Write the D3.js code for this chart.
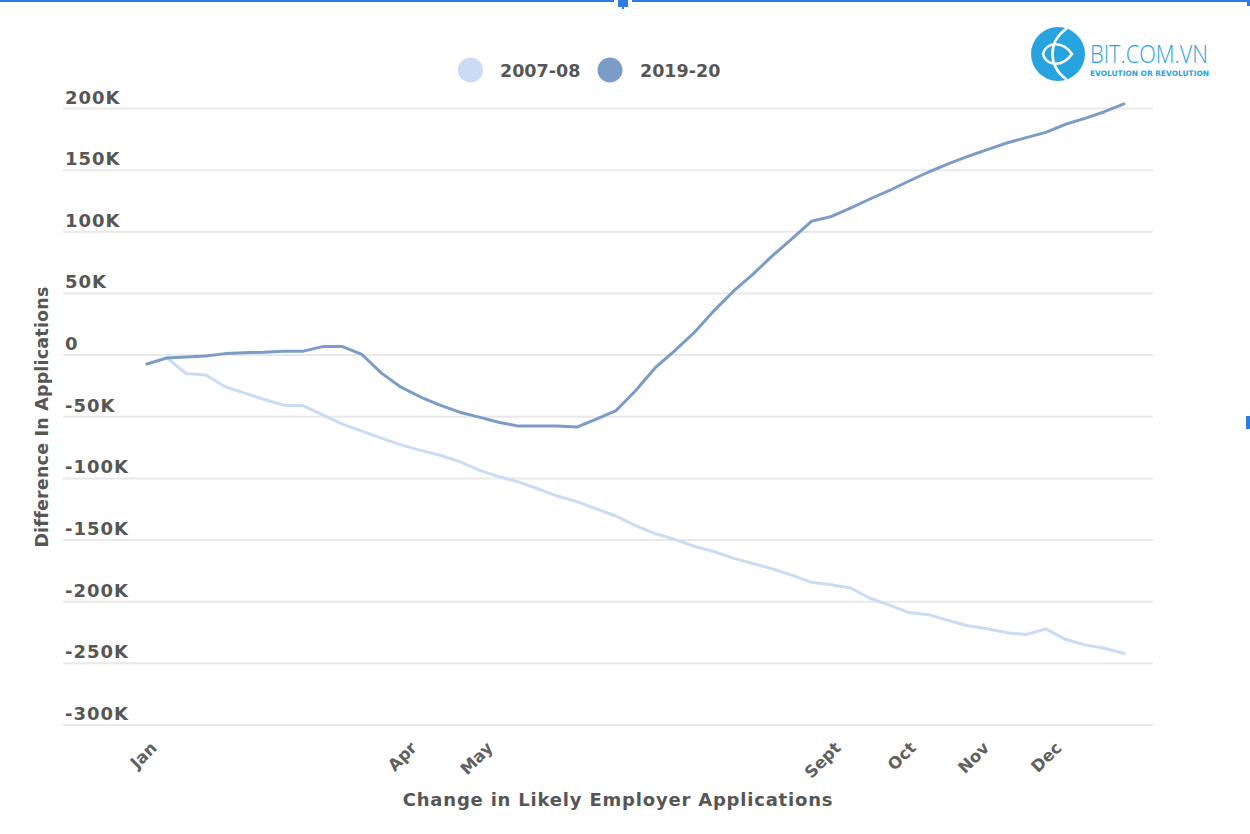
<!DOCTYPE html>
<html>
<head>
<meta charset="utf-8">
<script src="https://cdn.jsdelivr.net/npm/d3@7"></script>
<style>
  html, body { margin: 0; padding: 0; background: #fff; }
  svg { display: block; }
</style>
</head>
<body>
<svg id="chart" width="1250" height="834"></svg>
<script>
// ---------- DATA ----------
const seriesNames = ["2007-08", "2019-20"];
const seriesColors = ["#c9dcf3", "#7c9cc8"];

// weekly index 0..50
const values2007 = [
  -6.7, -2.0, -14.9, -16.2, -25.7, -30.8, -36.0, -40.6, -41.1, -48.5,
  -56.0, -61.7, -67.3, -72.8, -77.3, -81.2, -86.4, -93.3, -98.5, -102.8,
  -108.4, -114.3, -118.8, -124.7, -130.5, -138.3, -144.8, -149.4, -155.0, -159.3,
  -164.7, -169.0, -173.4, -178.5, -184.3, -186.2, -188.9, -197.2, -202.8, -208.8,
  -210.5, -215.1, -219.5, -222.0, -225.1, -226.6, -222.0, -230.5, -235.0, -237.7,
  -242.0
].map(v => v * 1000);

const values2019 = [
  -7.3, -2.4, -1.6, -0.8, 1.2, 2.0, 2.4, 3.2, 3.2, 6.9,
  6.9, 0.5, -14.6, -26.0, -34.0, -40.6, -46.3, -50.3, -54.4, -57.6,
  -57.6, -57.6, -58.4, -52.0, -45.0, -28.9, -10.4, 3.5, 18.2, 35.7,
  51.6, 65.5, 80.4, 94.2, 108.5, 112.3, 119.3, 126.6, 133.5, 141.2,
  148.5, 155.0, 161.1, 166.6, 172.0, 176.4, 180.6, 187.2, 192.0, 197.4,
  203.7
].map(v => v * 1000);

const xTickLabels = ["Jan", "Apr", "May", "Sept", "Oct", "Nov", "Dec"];
const xTickIndex  = [0.25, 13.55, 17.45, 35.25, 39.1, 42.85, 46.55];

const yTickValues = [200000, 150000, 100000, 50000, 0, -50000, -100000, -150000, -200000, -250000, -300000];
const yTickLabels = ["200K", "150K", "100K", "50K", "0", "-50K", "-100K", "-150K", "-200K", "-250K", "-300K"];

const xTitle = "Change in Likely Employer Applications";
const yTitle = "Difference In Applications";

// ---------- DRAW ----------
const svg = d3.select("#chart");
const textColor = "#565656";
const fontFam = "'DejaVu Sans', sans-serif";

const x = d3.scaleLinear().domain([0, values2019.length - 1]).range([147, 1124]);
const y = d3.scaleLinear().domain([-300000, 200000]).range([725, 108.5]);
const gridX0 = 63, gridX1 = 1153;

// screenshot frame decorations
svg.append("rect").attr("x", 0).attr("y", 0).attr("width", 614).attr("height", 2).attr("fill", "#2b7de3");
svg.append("rect").attr("x", 632).attr("y", 0).attr("width", 618).attr("height", 2).attr("fill", "#2b7de3");
svg.append("rect").attr("x", 618).attr("y", 0).attr("width", 10).attr("height", 7).attr("fill", "#2b7de3");
svg.append("rect").attr("x", 622).attr("y", 7).attr("width", 2).attr("height", 2).attr("fill", "#2b7de3");
svg.append("rect").attr("x", 1247).attr("y", 0).attr("width", 3).attr("height", 6).attr("fill", "#2b7de3");
svg.append("rect").attr("x", 1246).attr("y", 416).attr("width", 4).attr("height", 13).attr("fill", "#2b7de3");

// gridlines
svg.append("g").selectAll("line").data(yTickValues).join("line")
  .attr("x1", gridX0).attr("x2", gridX1)
  .attr("y1", d => y(d)).attr("y2", d => y(d))
  .attr("stroke", "#e9e9e9").attr("stroke-width", 2);

// y tick labels
svg.append("g").selectAll("text").data(yTickValues).join("text")
  .attr("x", 65).attr("y", d => y(d) - 5)
  .attr("font-family", fontFam).attr("font-weight", "bold")
  .attr("font-size", 18).attr("letter-spacing", 1)
  .attr("fill", textColor)
  .text((d, i) => yTickLabels[i]);

// x tick labels (rotated)
svg.append("g").selectAll("text").data(xTickIndex).join("text")
  .attr("transform", d => `translate(${x(d) + 6},749) rotate(-45)`)
  .attr("text-anchor", "end")
  .attr("font-family", fontFam).attr("font-weight", "bold")
  .attr("font-size", 16.5)
  .attr("fill", "#606060")
  .text((d, i) => xTickLabels[i]);

// axis titles
svg.append("text")
  .attr("x", 618).attr("y", 806)
  .attr("text-anchor", "middle")
  .attr("font-family", fontFam).attr("font-weight", "bold").attr("font-size", 18)
  .attr("letter-spacing", 0.8)
  .attr("fill", textColor)
  .text(xTitle);

svg.append("text")
  .attr("transform", "translate(48,417) rotate(-90)")
  .attr("text-anchor", "middle")
  .attr("font-family", fontFam).attr("font-weight", "bold").attr("font-size", 17.5)
  .attr("letter-spacing", 0.2)
  .attr("fill", textColor)
  .text(yTitle);

// lines
const line = d3.line().x((d, i) => x(i)).y(d => y(d)).curve(d3.curveLinear);
[values2007, values2019].forEach((vals, k) => {
  svg.append("path")
    .datum(vals)
    .attr("d", line)
    .attr("fill", "none")
    .attr("stroke", seriesColors[k])
    .attr("stroke-width", 3)
    .attr("stroke-linejoin", "round")
    .attr("stroke-linecap", "round");
});

// legend
const legendItems = [
  { cx: 470.5, tx: 500 },
  { cx: 610, tx: 640 }
];
const lg = svg.append("g");
seriesNames.forEach((name, k) => {
  lg.append("circle").attr("cx", legendItems[k].cx).attr("cy", 70).attr("r", 12.5)
    .attr("fill", seriesColors[k]);
  lg.append("text").attr("x", legendItems[k].tx).attr("y", 77)
    .attr("font-family", fontFam).attr("font-weight", "bold").attr("font-size", 17.5)
    .attr("fill", textColor)
    .text(name);
});

// logo
const logo = svg.append("g");
const logoBlue = "#27a4e0";
logo.append("circle").attr("cx", 1058).attr("cy", 54).attr("r", 27).attr("fill", logoBlue);
logo.append("path")
  .attr("d", "M1066,29 C1048,42 1048,66 1066,79 M1072,54 C1062,40 1046,42 1043,54 C1046,66 1062,68 1072,54 Z")
  .attr("fill", "none").attr("stroke", "#fff").attr("stroke-width", 2.6).attr("stroke-linecap", "round");
logo.append("text").attr("x", 1090).attr("y", 63)
  .attr("font-family", "'Open Sans', sans-serif").attr("font-weight", 300).attr("font-size", 26)
  .attr("textLength", 118).attr("lengthAdjust", "spacingAndGlyphs")
  .attr("fill", logoBlue).text("BIT.COM.VN");
logo.append("text").attr("x", 1090).attr("y", 75.5)
  .attr("font-family", "'DejaVu Sans', sans-serif").attr("font-weight", "bold").attr("font-size", 7.5)
  .attr("textLength", 119).attr("lengthAdjust", "spacingAndGlyphs")
  .attr("fill", logoBlue).text("EVOLUTION OR REVOLUTION");
</script>
</body>
</html>
